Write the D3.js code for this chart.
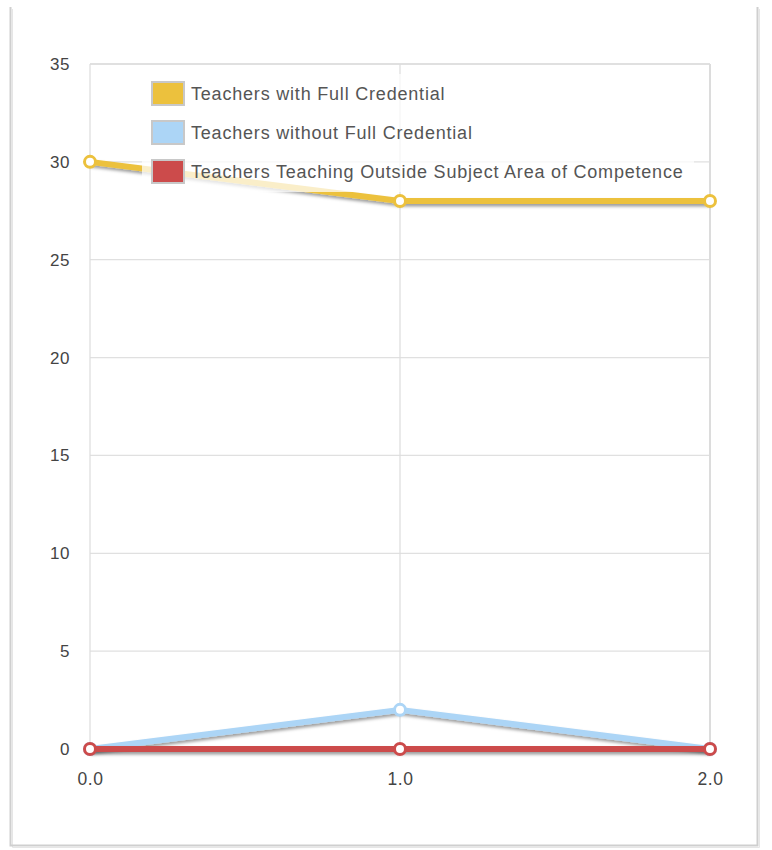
<!DOCTYPE html>
<html><head><meta charset="utf-8">
<script src="https://cdn.jsdelivr.net/npm/d3@7"></script>
<style>body{margin:0;background:#fff}svg{display:block;font-family:"Liberation Sans",Arial,sans-serif}</style>
</head><body><svg id="c" width="772" height="850"></svg>
<script>
const xValues = [0, 1, 2];
const seriesNames = ["Teachers with Full Credential", "Teachers without Full Credential", "Teachers Teaching Outside Subject Area of Competence"];
const fullCredential = [30, 28, 28];
const withoutCredential = [0, 2, 0];
const outsideSubject = [0, 0, 0];
const seriesColors = ["#ecc13d", "#acd5f6", "#cc4b4b"];
const yTicks = [0, 5, 10, 15, 20, 25, 30, 35];
const xTicks = [0, 1, 2];

const svg = d3.select("#c");
const defs = svg.append("defs");
const f = defs.append("filter").attr("id","sh").attr("filterUnits","userSpaceOnUse")
  .attr("x",0).attr("y",0).attr("width",772).attr("height",850);
f.append("feDropShadow").attr("dx",1).attr("dy",2.5).attr("stdDeviation",1.6).attr("flood-color","#000").attr("flood-opacity",0.38);

// outer frame
const fr = svg.append("g").attr("fill","none");
fr.append("path").attr("d","M12.5,9 V847.5 H759.5 V9").attr("stroke","#e6e6e6").attr("stroke-width",1);
fr.append("path").attr("d","M10.5,7 V845.5 H757.5 V7").attr("stroke","#cfcfcf").attr("stroke-width",2);

const x = d3.scaleLinear().domain([0,2]).range([90,710]);
const y = d3.scaleLinear().domain([0,35]).range([749,64]);

// grid
const g = svg.append("g");
g.selectAll(".hg").data(yTicks).join("line")
 .attr("x1",90).attr("x2",710).attr("y1",d=>y(d)).attr("y2",d=>y(d))
 .attr("stroke","#e0e0e0").attr("stroke-width",d=>d===35?2:1.2);
g.selectAll(".vg").data(xTicks).join("line")
 .attr("x1",d=>x(d)).attr("x2",d=>x(d)).attr("y1",64).attr("y2",749)
 .attr("stroke","#dcdcdc").attr("stroke-width",d=>d===2?2:1.2);

// axes labels
const yAxis = d3.axisLeft(y).tickValues(yTicks).tickSize(0).tickPadding(20).tickFormat(d3.format("d"));
const ya = svg.append("g").attr("transform","translate(90,0)").call(yAxis);
ya.select(".domain").remove();
ya.selectAll("text").attr("font-size",17).attr("letter-spacing",0.5).attr("fill","#444").attr("font-family","Liberation Sans, Arial, sans-serif");
const xAxis = d3.axisBottom(x).tickValues(xTicks).tickSize(0).tickPadding(24).tickFormat(d3.format(".1f"));
const xa = svg.append("g").attr("transform","translate(0,749)").call(xAxis);
xa.select(".domain").remove();
xa.selectAll("text").attr("font-size",17.5).attr("letter-spacing",0.5).attr("fill","#444").attr("font-family","Liberation Sans, Arial, sans-serif");

// series
const allSeries = [fullCredential, withoutCredential, outsideSubject];
const line = d3.line().x((d,i)=>x(xValues[i])).y(d=>y(d));
allSeries.forEach((vals,si)=>{
  const sg = svg.append("g");
  sg.append("path").datum(vals).attr("d",line).attr("fill","none")
    .attr("stroke",seriesColors[si]).attr("stroke-width",6).attr("stroke-linejoin","round").attr("filter","url(#sh)");
  sg.selectAll("circle").data(vals).join("circle")
    .attr("cx",(d,i)=>x(xValues[i])).attr("cy",d=>y(d)).attr("r",5.5)
    .attr("fill","#fff").attr("stroke",seriesColors[si]).attr("stroke-width",3);
});

// legend
const lg = svg.append("g");
lg.append("rect").attr("x",142).attr("y",74).attr("width",552).attr("height",118).attr("fill","#fff").attr("opacity",0.72);
seriesNames.forEach((name,i)=>{
  const yy = 82 + i*39;
  lg.append("rect").attr("x",152).attr("y",yy).attr("width",32).attr("height",23)
    .attr("fill",seriesColors[i]).attr("stroke","#c8c8c8").attr("stroke-width",2);
  lg.append("text").attr("x",191).attr("y",yy+18).attr("font-size",18).attr("letter-spacing",0.8).attr("fill","#555").text(name);
});
</script></body></html>
